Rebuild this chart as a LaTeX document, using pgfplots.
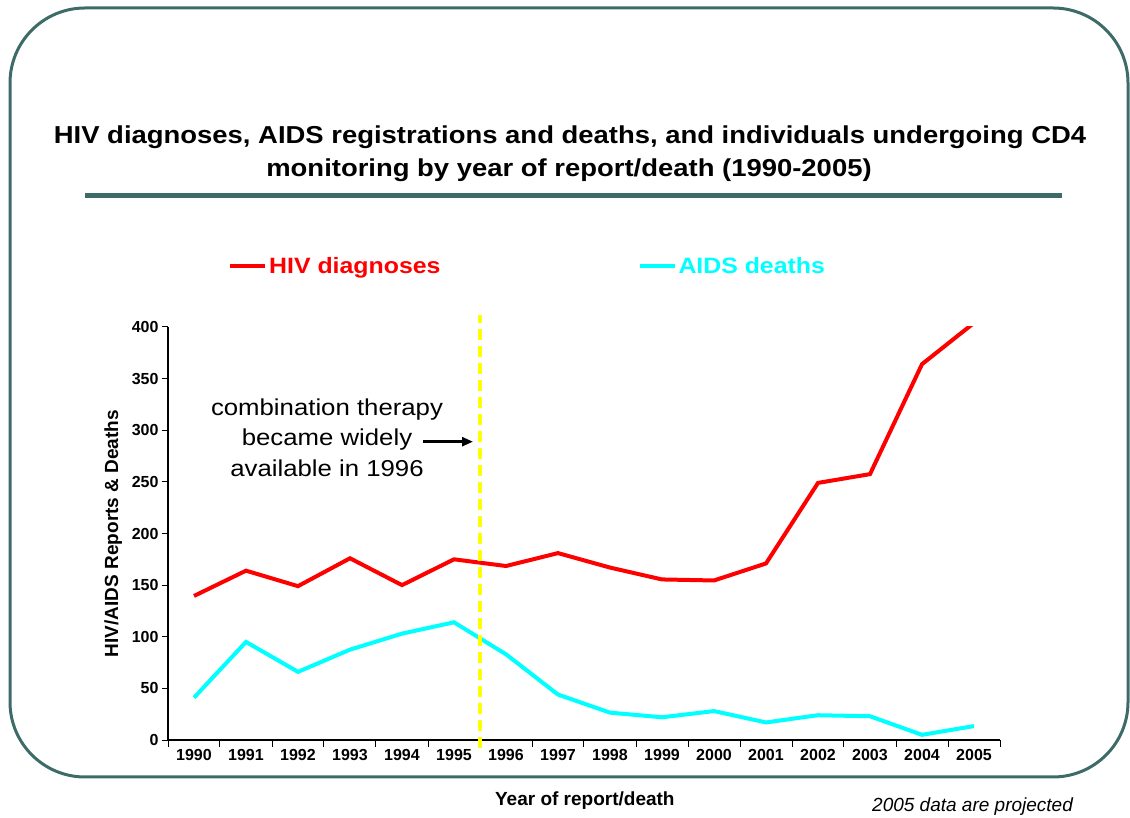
\documentclass[border=0pt]{standalone}
\usepackage{fontspec}
\setmainfont{Liberation Sans}
\newfontfamily\widefont{Liberation Sans}[FakeStretch=1.12]
\usepackage{pgfplots}
\pgfplotsset{compat=1.18}
\usetikzlibrary{arrows.meta}
\definecolor{framecol}{HTML}{3D6B68}
\definecolor{hivred}{HTML}{FF0000}
\definecolor{aidscyan}{HTML}{00FFFF}
\definecolor{yel}{HTML}{FFFF00}

\pgfplotstableread{
year hiv aids
1990 139.5 41
1991 164 95
1992 149 66
1993 176 87.5
1994 150 103
1995 175 114
1996 168.5 83
1997 181 44
1998 167 26.5
1999 155.5 22
2000 154.5 28
2001 171 17
2002 249 24
2003 257.5 23
2004 364 5
2005 404 13.5
}\datatable

\begin{document}
\begin{tikzpicture}
\path[use as bounding box] (0,0) rectangle (1130bp,818bp);
\draw[framecol, line width=3bp, rounded corners=75bp] (10bp,41bp) rectangle (1128bp,810bp);
\node[anchor=base, font=\widefont\fontsize{24.5bp}{29bp}\selectfont\bfseries] at (570bp,674bp)
  {HIV diagnoses, AIDS registrations and deaths, and individuals undergoing CD4};
\node[anchor=base, font=\widefont\fontsize{24.5bp}{29bp}\selectfont\bfseries] at (569bp,641bp)
  {monitoring by year of report/death (1990-2005)};
\draw[framecol, line width=5bp] (85bp,622bp) -- (1062bp,622bp);

\begin{axis}[
  at={(168bp,78bp)}, anchor=south west,
  scale only axis, width=832bp, height=413bp,
  xmin=1989.5, xmax=2005.5, ymin=0, ymax=400,
  clip mode=individual,
  axis x line*=bottom, axis y line*=left,
  axis line style={black, line width=1.2bp},
  xtick={1990,1991,...,2005},
  minor xtick={1989.5,1990.5,...,2005.5},
  major x tick style={draw=none},
  ytick={0,50,...,400},
  tick align=outside,
  major tick length=6bp, minor tick length=7bp,
  tick style={black, line width=1bp},
  tick label style={font=\fontsize{16bp}{19bp}\selectfont\bfseries},
  /pgf/number format/assume math mode=true,
  /pgf/number format/1000 sep={},
  ylabel={HIV/AIDS Reports \& Deaths},
  ylabel style={font=\fontsize{19bp}{22bp}\selectfont\bfseries, at={(axis description cs:-0.066,0.5)}, anchor=center},
  xlabel={Year of report/death},
  xlabel style={font=\fontsize{19bp}{22bp}\selectfont\bfseries, at={(axis description cs:0.501,-0.147)}, anchor=center},
  legend style={at={(axis description cs:0.0685,1.148)}, anchor=west, draw=none, fill=none,
    legend columns=2, font=\widefont\fontsize{22.2bp}{26bp}\selectfont\bfseries,
    /tikz/every even column/.append style={column sep=195bp}, nodes={inner sep=2bp}},
  legend image code/.code={\draw[#1] (0bp,0bp) -- (35bp,0bp);},
  legend cell align=left,
]
\addplot[hivred, line width=4bp] table[x=year, y=hiv] {\datatable};
\addlegendentry{\textcolor{hivred}{HIV diagnoses}}
\addplot[aidscyan, line width=4bp] table[x=year, y=aids] {\datatable};
\addlegendentry{\textcolor{aidscyan}{AIDS deaths}}
\draw[yel, line width=3.6bp, dash pattern=on 11bp off 6bp] (axis cs:1995.5,-8) -- (axis cs:1995.5,412);
\end{axis}

\node[anchor=base, font=\widefont\fontsize{23bp}{30bp}\selectfont] at (327bp,402bp) {combination therapy};
\node[anchor=base, font=\widefont\fontsize{23bp}{30bp}\selectfont] at (327bp,372bp) {became widely};
\node[anchor=base, font=\widefont\fontsize{23bp}{30bp}\selectfont] at (327bp,341.5bp) {available in 1996};
\draw[line width=2.5bp, -{Triangle[length=11bp,width=9bp]}] (423bp,376.3bp) -- (473bp,376.3bp);

\node[anchor=base west, inner sep=0pt, font=\fontsize{19bp}{22bp}\selectfont\itshape] at (872bp,7bp) {2005 data are projected};
\end{tikzpicture}
\end{document}
